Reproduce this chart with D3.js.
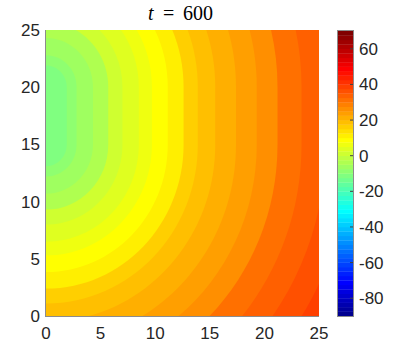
<!DOCTYPE html>
<html>
<head>
<meta charset="utf-8">
<script src="https://cdn.jsdelivr.net/npm/d3@7"></script>
<style>
  html, body { margin: 0; padding: 0; background: #fff; }
  svg { display: block; }
</style>
</head>
<body>
<svg id="chart" width="407" height="355"></svg>
<script>
// ---------------- data ----------------
// contour levels of the filled bands, from the innermost band outwards
const levels = [-12, -9, -6, -3, 0, 3, 6, 9, 12, 15, 18, 21, 24, 27, 30, 33, 36, 39];
// distance from the source at which each band ends (band k ends at radii[k])
const radii = [1.9, 2.8, 4.3, 5.7, 7.0, 8.5, 9.7, 11.15, 12.6, 13.9, 15.5, 17.4, 19.3, 21.2, 23.4, 25.6, 27.8];
// the source (field minimum) lies on the left edge x = 0 between these y values
const sourceY = [15, 20];
const xTicks = [0, 5, 10, 15, 20, 25];
const yTicks = [0, 5, 10, 15, 20, 25];
const cbTicks = [-80, -60, -40, -20, 0, 20, 40, 60];
const cRange = [-90, 70];
const titleTime = "600";

// ---------------- MATLAB jet(64) ----------------
function jet64(k) { // k = 1..64
  let r, g, b;
  r = k <= 24 ? 0 : k <= 40 ? (k - 24) / 16 : k <= 56 ? 1 : (72 - k) / 16;
  g = k <= 8 ? 0 : k <= 24 ? (k - 8) / 16 : k <= 40 ? 1 : k <= 56 ? (56 - k) / 16 : 0;
  b = k <= 8 ? (k + 8) / 16 : k <= 24 ? 1 : k <= 40 ? (40 - k) / 16 : 0;
  return d3.rgb(Math.round(r * 255), Math.round(g * 255), Math.round(b * 255)).formatHex();
}
const nColors = 64;
const colorIndex = d3.scaleQuantize().domain(cRange).range(d3.range(1, nColors + 1));
const colorOf = v => jet64(colorIndex(Math.max(cRange[0], Math.min(cRange[1] - 1e-9, v))));

// ---------------- layout ----------------
const svg = d3.select("#chart");
const x = d3.scaleLinear().domain([0, 25]).range([46, 319]);
const y = d3.scaleLinear().domain([0, 25]).range([316, 30]);
const cb = d3.scaleLinear().domain(cRange).range([316, 31]);
const cbX0 = 338, cbX1 = 353;

svg.append("defs").append("clipPath").attr("id", "plotclip")
  .append("rect")
  .attr("x", x(0)).attr("y", y(25))
  .attr("width", x(25) - x(0)).attr("height", y(0) - y(25));

const plot = svg.append("g").attr("clip-path", "url(#plotclip)");

// outermost band covers everything
plot.append("rect")
  .attr("x", x(0)).attr("y", y(25))
  .attr("width", x(25) - x(0)).attr("height", y(0) - y(25))
  .attr("fill", colorOf(levels[levels.length - 1]));

function stadium(r) {
  const cx = x(0), ty = y(sourceY[1]), by = y(sourceY[0]);
  const rx = x(r) - x(0), ry = y(0) - y(r);
  const p = d3.path();
  p.moveTo(cx, ty - ry);
  p.bezierCurveTo(cx + rx * 0.5523, ty - ry, cx + rx, ty - ry * 0.5523, cx + rx, ty);
  p.lineTo(cx + rx, by);
  p.bezierCurveTo(cx + rx, by + ry * 0.5523, cx + rx * 0.5523, by + ry, cx, by + ry);
  p.bezierCurveTo(cx - rx * 0.5523, by + ry, cx - rx, by + ry * 0.5523, cx - rx, by);
  p.lineTo(cx - rx, ty);
  p.bezierCurveTo(cx - rx, ty - ry * 0.5523, cx - rx * 0.5523, ty - ry, cx, ty - ry);
  p.closePath();
  return p.toString();
}

const bands = radii.map((r, i) => ({ r, level: levels[i] })).reverse();
plot.selectAll("path.band").data(bands).join("path")
  .attr("class", "band")
  .attr("d", d => stadium(d.r))
  .attr("fill", d => colorOf(d.level));

// axes lines (left and bottom)
const axisColor = "#8c8c8c";
svg.append("line").attr("x1", x(0)).attr("x2", x(25)).attr("y1", y(0) + 0.5).attr("y2", y(0) + 0.5)
  .attr("stroke", axisColor).attr("stroke-width", 1);
svg.append("line").attr("x1", x(0) - 0.5).attr("x2", x(0) - 0.5).attr("y1", y(0) + 1).attr("y2", y(25))
  .attr("stroke", axisColor).attr("stroke-width", 1);

// tick labels
const fontSans = "'Liberation Sans', Arial, Helvetica, sans-serif";
svg.append("g").selectAll("text").data(xTicks).join("text")
  .attr("x", d => x(d)).attr("y", 339)
  .attr("text-anchor", "middle")
  .attr("font-family", fontSans).attr("font-size", 17).attr("fill", "#262626")
  .text(d => d);
svg.append("g").selectAll("text").data(yTicks).join("text")
  .attr("x", 40).attr("y", d => y(d) + 6)
  .attr("text-anchor", "end")
  .attr("font-family", fontSans).attr("font-size", 17).attr("fill", "#262626")
  .text(d => d);

// colorbar
const steps = d3.range(nColors).map(i => ({
  v0: cRange[0] + i * (cRange[1] - cRange[0]) / nColors,
  v1: cRange[0] + (i + 1) * (cRange[1] - cRange[0]) / nColors,
  k: i + 1
}));
svg.append("g").selectAll("rect").data(steps).join("rect")
  .attr("x", cbX0).attr("width", cbX1 - cbX0)
  .attr("y", d => cb(d.v1)).attr("height", d => cb(d.v0) - cb(d.v1) + 0.3)
  .attr("fill", d => jet64(d.k));
svg.append("rect")
  .attr("x", cbX0 - 0.5).attr("y", cb(cRange[1]) - 0.5)
  .attr("width", cbX1 - cbX0 + 1).attr("height", cb(cRange[0]) - cb(cRange[1]) + 1)
  .attr("fill", "none").attr("stroke", "#8c8c8c").attr("stroke-width", 1);
svg.append("g").selectAll("line").data(cbTicks).join("line")
  .attr("x1", cbX1 - 3).attr("x2", cbX1).attr("y1", d => cb(d)).attr("y2", d => cb(d))
  .attr("stroke", "#404040").attr("stroke-width", 1);
svg.append("g").selectAll("text").data(cbTicks).join("text")
  .attr("x", 359).attr("y", d => cb(d) + 6)
  .attr("font-family", fontSans).attr("font-size", 17).attr("fill", "#262626")
  .text(d => d);

// title  t = 600
const fontSerif = "'Liberation Serif', 'DejaVu Serif', serif";
const title = svg.append("text").attr("y", 19.5)
  .attr("font-family", fontSerif).attr("font-size", 20).attr("fill", "#000");
title.append("tspan").attr("x", 148).attr("font-style", "italic").text("t");
title.append("tspan").attr("x", 163).text("=");
title.append("tspan").attr("x", 183).text(titleTime);
</script>
</body>
</html>
